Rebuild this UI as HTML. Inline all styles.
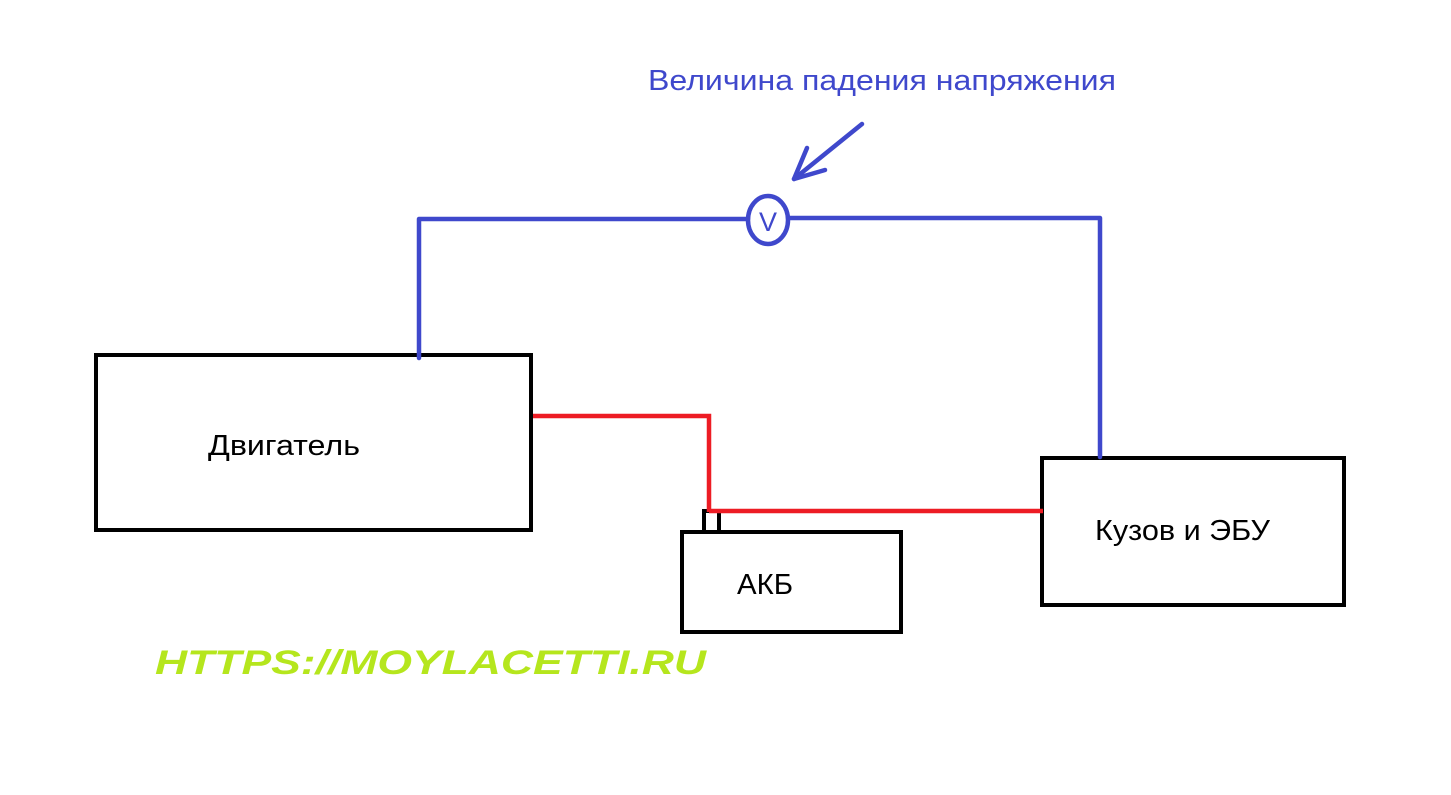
<!DOCTYPE html>
<html><head><meta charset="utf-8"><style>
html,body{margin:0;padding:0;background:#fff;width:1451px;height:795px;overflow:hidden}
svg{display:block}
</style></head><body>
<svg width="1451" height="795" viewBox="0 0 1451 795" xmlns="http://www.w3.org/2000/svg">
<g fill="none" stroke="#000" stroke-width="4">
<rect x="96" y="355" width="435" height="175"/>
<rect x="1042" y="458" width="302" height="147"/>
<rect x="682" y="532" width="219" height="100"/>
<rect x="704" y="511" width="15" height="21"/>
</g>
<g fill="none" stroke="#3f48cc" stroke-width="4.5" stroke-linecap="round" stroke-linejoin="round">
<polyline points="419,358 419,219 748,219"/>
<polyline points="789,218 1100,218 1100,457"/>
<ellipse cx="768" cy="220" rx="20" ry="24"/>
<line x1="862" y1="124" x2="794" y2="179"/>
<polyline points="807,148 794,179 825,170"/>
</g>
<g fill="none" stroke="#ed1c24" stroke-width="4.5" stroke-linejoin="miter">
<polyline points="533,416 709,416 709,512"/>
<line x1="709" y1="511" x2="1043" y2="511"/>
</g>
<g font-family="Liberation Sans, DejaVu Sans, sans-serif" font-size="29">
<text x="648" y="90" fill="#3f48cc" textLength="468" lengthAdjust="spacingAndGlyphs">Величина падения напряжения</text>
<text x="768" y="231" fill="#3f48cc" font-size="27" text-anchor="middle">V</text>
<text x="208" y="455" fill="#000" textLength="152" lengthAdjust="spacingAndGlyphs">Двигатель</text>
<text x="1095" y="540" fill="#000" textLength="175" lengthAdjust="spacingAndGlyphs">Кузов и ЭБУ</text>
<text x="737" y="594" fill="#000" textLength="56" lengthAdjust="spacingAndGlyphs">АКБ</text>
</g>
<text x="155" y="674" fill="#b5e61d" font-family="Liberation Sans, DejaVu Sans, sans-serif" font-size="34" font-weight="bold" font-style="italic" textLength="551" lengthAdjust="spacingAndGlyphs">HTTPS://MOYLACETTI.RU</text>
</svg>
</body></html>
